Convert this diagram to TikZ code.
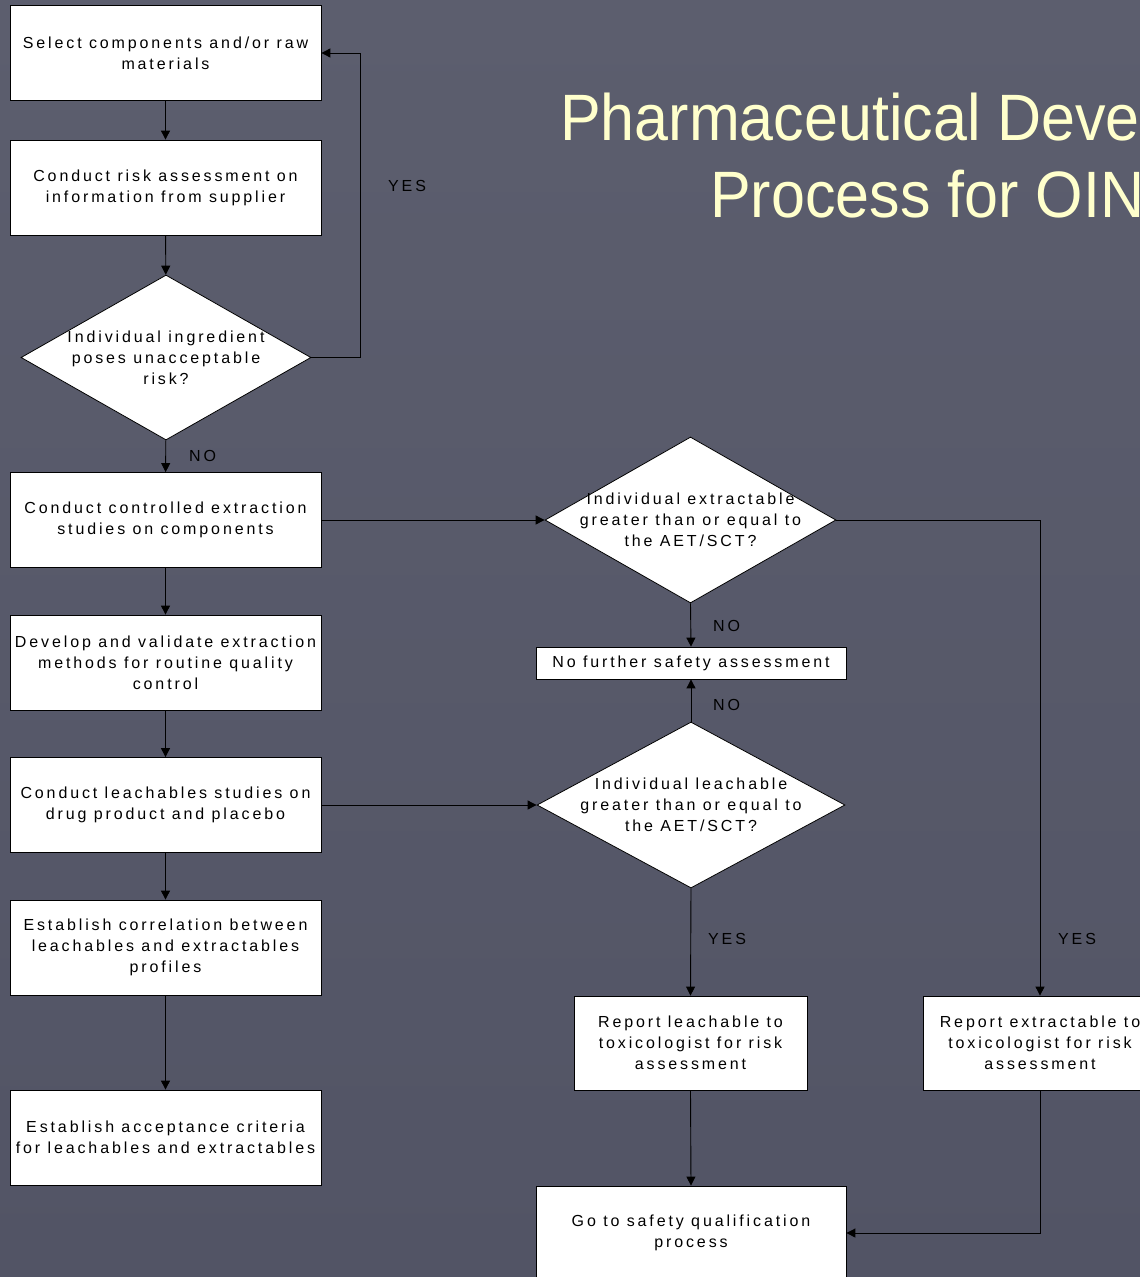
\documentclass[tikz,border=0pt]{standalone}
\usepackage{fontspec}
\setmainfont{Liberation Sans}
\newfontfamily\boxfont[LetterSpace=18]{Liberation Sans}
\newfontfamily\titlefont[FakeStretch=0.93]{Liberation Sans}
\usetikzlibrary{arrows.meta,shapes.geometric}

\definecolor{slidetop}{HTML}{5C5E6E}
\definecolor{slidebot}{HTML}{525465}
\definecolor{titleyellow}{HTML}{FFFFCC}

\tikzset{
  stepbox/.style={draw=black, fill=white, line width=0.8pt, inner sep=0pt, align=center,
    minimum width=311pt, minimum height=95pt, font=\boxfont\fontsize{16}{21}\selectfont},
  decision/.style={diamond, draw=black, fill=white, line width=0.8pt, inner sep=0pt},
  boxtext/.style={align=center, inner sep=0pt, font=\boxfont\fontsize{16}{21}\selectfont},
  lbl/.style={inner sep=0pt, anchor=west, font=\boxfont\fontsize{16}{18}\selectfont},
  titletext/.style={inner sep=0pt, anchor=base west, text=titleyellow, font=\titlefont\fontsize{65.6}{70}\selectfont},
  arr/.style={line width=0.9pt, -{Triangle[length=9pt,width=9pt]}}
}

\begin{document}
\begin{tikzpicture}[x=1pt,y=-1pt]
  \useasboundingbox (0,0) rectangle (1140,1277);
  \clip (0,0) rectangle (1140,1277);
  \shade[top color=slidetop, bottom color=slidebot] (0,0) rectangle (1140,1277);

  % title
  \node[titletext] (title1) at (560,140) {Pharmaceutical Development};
  \node[titletext] (title2) at (710,217) {Process for OINDP};

  % left column
  \node[stepbox] (select) at (165.5,53) {Select components and/or raw\\materials};
  \node[stepbox] (risk) at (165.5,187.5) {Conduct risk assessment on\\information from supplier};
  \node[decision, minimum width=290pt, minimum height=165pt] (ingred) at (166,357.5) {};
  \node[boxtext] at (ingred) {Individual ingredient\\poses unacceptable\\risk?};
  \node[stepbox] (extract) at (165.5,520) {Conduct controlled extraction\\studies on components};
  \node[stepbox] (develop) at (165.5,662.5) {Develop and validate extraction\\methods for routine quality\\control};
  \node[stepbox] (leach) at (165.5,805) {Conduct leachables studies on\\drug product and placebo};
  \node[stepbox] (correl) at (165.5,947.5) {Establish correlation between\\leachables and extractables\\profiles};
  \node[stepbox] (accept) at (165.5,1137.5) {Establish acceptance criteria\\for leachables and extractables};

  % middle and right
  \node[decision, minimum width=291pt, minimum height=166pt] (exdec) at (690.5,520) {};
  \node[boxtext] at (exdec) {Individual extractable\\greater than or equal to\\the AET/SCT?};
  \node[stepbox, minimum width=310pt, minimum height=32pt] (nofurther) at (691,663) {No further safety assessment};
  \node[decision, minimum width=308pt, minimum height=166pt] (ledec) at (691,805) {};
  \node[boxtext] at (ledec) {Individual leachable\\greater than or equal to\\the AET/SCT?};
  \node[stepbox, minimum width=233pt, minimum height=94pt] (repleach) at (690.5,1043) {Report leachable to\\toxicologist for risk\\assessment};
  \node[stepbox, minimum width=233pt, minimum height=94pt] (repext) at (1040,1043) {Report extractable to\\toxicologist for risk\\assessment};
  \node[stepbox, minimum width=310pt, minimum height=94pt] (goto) at (691,1233) {Go to safety qualification\\process};

  % connectors
  \coordinate (loop) at (360,0);
  \draw[arr] (select) -- (risk);
  \draw[arr] (risk) -- (ingred);
  \draw[arr] (ingred.east) -- (ingred.east -| loop) -- (select.east -| loop) -- (select.east);
  \draw[arr] (ingred) -- (extract);
  \draw[arr] (extract) -- (develop);
  \draw[arr] (develop) -- (leach);
  \draw[arr] (leach) -- (correl);
  \draw[arr] (correl) -- (accept);
  \draw[arr] (extract.east) -- (exdec.west);
  \draw[arr] (leach.east) -- (ledec.west);
  \draw[arr] (exdec.south) -- (nofurther.north);
  \draw[arr] (ledec.north) -- (nofurther.south);
  \draw[arr] (ledec.south) -- (repleach.north);
  \draw[arr] (repleach.south) -- (goto.north);
  \draw[arr] (exdec.east) -| (repext.north);
  \draw[arr] (repext.south) |- (goto.east);

  % labels
  \node[lbl] (yes1) at (388,186) {YES};
  \node[lbl] (no1) at (189,456) {NO};
  \node[lbl] (no2) at (713,626) {NO};
  \node[lbl] (no3) at (713,705) {NO};
  \node[lbl] (yes2) at (708,939) {YES};
  \node[lbl] (yes3) at (1058,939) {YES};
\end{tikzpicture}
\end{document}
